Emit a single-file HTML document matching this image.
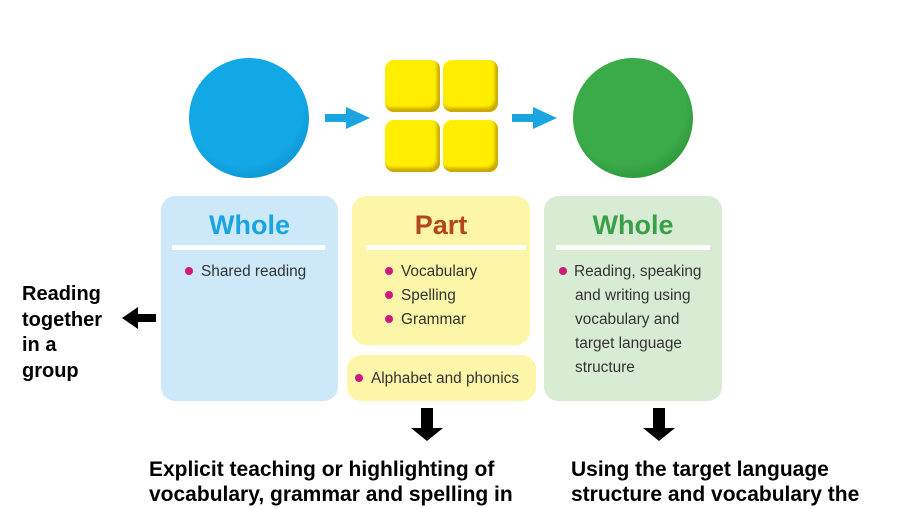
<!DOCTYPE html>
<html><head><style>
body{margin:0;width:901px;height:509px;background:#fff;position:relative;overflow:hidden;font-family:"Liberation Sans",sans-serif}
.a{position:absolute}
.box{position:absolute;border-radius:14px}
.t{position:absolute;font-weight:bold;font-size:27px;text-align:center;width:100%;top:14px}
.bar{position:absolute;height:5px;background:#fff;top:49px}
.li{position:absolute;font-size:15.4px;color:#333;line-height:24px}
.dot{display:inline-block;width:8px;height:8px;border-radius:50%;background:#d0187a;margin-right:8px;vertical-align:1px}
.sq{position:absolute;width:55px;height:52px;background:#ffee00;border-radius:9px;box-shadow:inset -3px -4px 3px #c9a800}
.bt{position:absolute;font-weight:bold;font-size:21px;color:#000;line-height:25px}
</style></head><body>
<div class="a" style="left:189px;top:58px;width:120px;height:120px;border-radius:50%;background:radial-gradient(circle at 45% 40%,#12a8e6 60%,#0a7fb8 100%)"></div>
<div class="a" style="left:573px;top:58px;width:120px;height:120px;border-radius:50%;background:radial-gradient(circle at 45% 40%,#3aab48 60%,#1f7a2a 100%)"></div>
<div class="sq" style="left:385px;top:60px"></div><div class="sq" style="left:443px;top:60px"></div>
<div class="sq" style="left:385px;top:120px"></div><div class="sq" style="left:443px;top:120px"></div>
<svg class="a" style="left:0;top:0" width="901" height="509">
<polygon points="325,114 346,114 346,107 370,118 346,129 346,122 325,122" fill="#1aa5e0"/>
<polygon points="512,114 533,114 533,107 557,118 533,129 533,122 512,122" fill="#1aa5e0"/>
<polygon points="156,314 138,314 138,307 122,318 138,329 138,322 156,322" fill="#000"/>
<polygon points="421,408 433,408 433,428 443,428 427,441 411,428 421,428" fill="#000"/>
<polygon points="653,408 665,408 665,428 675,428 659,441 643,428 653,428" fill="#000"/>
</svg>
<div class="box" style="left:161px;top:196px;width:177px;height:205px;background:#cde9f9">
<div class="t" style="color:#1aa5e0">Whole</div><div class="bar" style="left:11px;width:153px"></div>
<div class="li" style="left:24px;top:64px"><span class="dot"></span>Shared reading</div></div>
<div class="box" style="left:352px;top:196px;width:178px;height:149px;background:#fdf5a8">
<div class="t" style="color:#b3461c">Part</div><div class="bar" style="left:14px;width:160px"></div>
<div class="li" style="left:33px;top:64px"><span class="dot"></span>Vocabulary<br><span class="dot"></span>Spelling<br><span class="dot"></span>Grammar</div></div>
<div class="box" style="left:347px;top:355px;width:189px;height:46px;background:#fdf5a8">
<div class="li" style="left:8px;top:12px"><span class="dot"></span>Alphabet and phonics</div></div>
<div class="box" style="left:544px;top:196px;width:178px;height:205px;background:#d8ecd4">
<div class="t" style="color:#3aa048">Whole</div><div class="bar" style="left:12px;width:154px"></div>
<div class="li" style="left:15px;top:64px"><span class="dot" style="margin-right:7px"></span>Reading, speaking<br><span style="padding-left:16px">and writing using</span><br><span style="padding-left:16px">vocabulary and</span><br><span style="padding-left:16px">target language</span><br><span style="padding-left:16px">structure</span></div></div>
<div class="bt" style="left:22px;top:282px;line-height:25.5px;font-size:20px">Reading<br>together<br>in a<br>group</div>
<div class="bt" style="left:149px;top:457px">Explicit teaching or highlighting of<br>vocabulary, grammar and spelling in</div>
<div class="bt" style="left:571px;top:457px">Using the target language<br>structure and vocabulary the</div>
</body></html>
